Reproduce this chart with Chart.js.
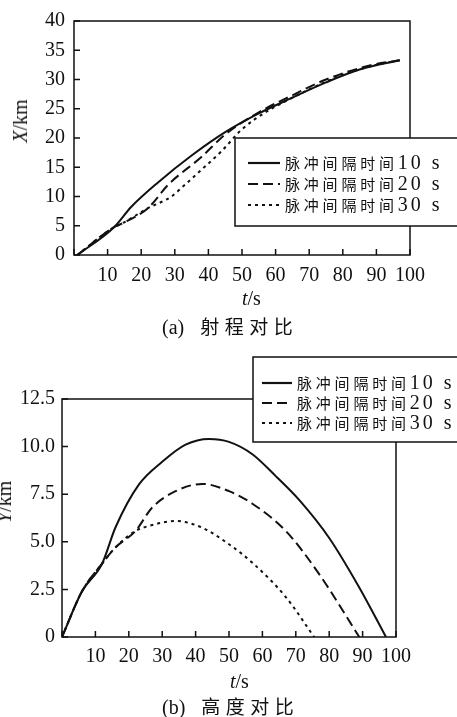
<!DOCTYPE html>
<html lang="zh">
<head>
<meta charset="UTF-8">
<script src="https://cdn.jsdelivr.net/npm/chart.js"></script>
<title>射程与高度对比</title>
<style>
    body, html {
        margin: 0;
        padding: 0;
        background: #fff;
    }
    .page {
        position: relative;
        width: 457px;
        height: 717px;
        overflow: hidden;
        font-family: "Liberation Serif", serif;
        color: #111;
    }
    canvas {
        position: absolute;
        left: 0;
    }
    .lbl {
        position: absolute;
        font-size: 20px;
        white-space: nowrap;
        line-height: 1;
    }
    .rot {
        transform: translate(-50%, -50%) rotate(-90deg);
    }
    .cap .zh {
        font-family: "Noto Sans CJK SC", sans-serif;
        font-size: 19px;
        letter-spacing: 5.5px;
        margin-left: 16px;
    }
</style>
</head>
<body>
<div class="page">
    <canvas id="rangeChart" width="457" height="300" style="top:0"></canvas>
    <canvas id="heightChart" width="457" height="377" style="top:340px"></canvas>

    <div class="lbl rot" style="left:20px; top:121px"><i>X</i>/km</div>
    <div class="lbl" style="left:242px; top:288px"><i>t</i>/s</div>
    <div class="lbl cap" style="left:162px; top:316px">(a)<span class="zh">射程对比</span></div>

    <div class="lbl rot" style="left:4px; top:502px"><i>Y</i>/km</div>
    <div class="lbl" style="left:230px; top:671px"><i>t</i>/s</div>
    <div class="lbl cap" style="left:162px; top:696px">(b)<span class="zh">高度对比</span></div>
</div>

<script>
    // legend labels
    const seriesLabels = ['脉冲间隔时间10 s', '脉冲间隔时间20 s', '脉冲间隔时间30 s']

    // (a) range X (km) vs t (s)
    const tRange10 = [1, 12, 17, 25, 35, 45, 55, 65, 75, 85, 97]
    const xRange10 = [0, 4.8, 8.2, 12.4, 17.0, 21.0, 24.2, 26.9, 29.5, 31.7, 33.3]
    const tRange20 = [1, 12, 14, 22, 28, 38, 45, 55, 65, 75, 88, 97]
    const xRange20 = [0, 4.8, 5.3, 8.0, 12.0, 16.8, 20.6, 24.4, 27.3, 30.0, 32.4, 33.3]
    const tRange30 = [1, 12, 14, 22, 29, 33, 38, 44, 50, 57, 63, 70, 80, 90, 97]
    const xRange30 = [0, 4.8, 5.3, 8.0, 10.0, 12.0, 14.6, 17.8, 21.5, 24.4, 26.3, 28.3, 30.8, 32.5, 33.3]

    // (b) height Y (km) vs t (s)
    const tHeight10 = [0, 6, 12, 16, 23, 30, 37, 44, 50, 57, 64, 71, 80, 89, 97]
    const yHeight10 = [0, 2.4, 3.85, 5.75, 8.0, 9.2, 10.1, 10.4, 10.25, 9.6, 8.45, 7.2, 5.2, 2.6, 0]
    const tHeight20 = [0, 6, 12, 16, 22, 27, 34, 42, 50, 57, 67, 77, 89]
    const yHeight20 = [0, 2.4, 3.85, 4.7, 5.57, 6.8, 7.66, 8.04, 7.66, 7.0, 5.57, 3.3, 0]
    const tHeight30 = [0, 6, 12, 16, 22, 26, 34, 42, 50, 57, 67, 75.5]
    const yHeight30 = [0, 2.4, 3.85, 4.7, 5.57, 5.83, 6.09, 5.74, 4.87, 3.9, 2.1, 0]

    const dashes = [[], [10, 5], [3, 4]]

    function toPoints(ts, vs) {
        return ts.map((t, i) => ({ x: t, y: vs[i] }))
    }

    function makeDatasets(series) {
        return series.map((s, i) => ({
            label: seriesLabels[i],
            data: toPoints(s[0], s[1]),
            borderColor: '#111',
            borderWidth: 2,
            borderDash: dashes[i],
            pointRadius: 0,
            cubicInterpolationMode: 'monotone',
            fill: false
        }))
    }

    // frame, inward ticks and the legend box that spills over the plot edge
    const framePlugin = {
        id: 'frame',
        afterDraw(chart, args, opts) {
            const ctx = chart.ctx
            const a = chart.chartArea
            const xs = chart.scales.x
            const ys = chart.scales.y
            ctx.save()
            ctx.strokeStyle = '#111'
            ctx.lineWidth = 1.5
            ctx.setLineDash([])
            ctx.strokeRect(a.left, a.top, a.right - a.left, a.bottom - a.top)

            ctx.beginPath()
            xs.ticks.forEach(t => {
                const px = xs.getPixelForValue(t.value)
                ctx.moveTo(px, a.bottom)
                ctx.lineTo(px, a.bottom - 6)
            })
            ys.ticks.forEach(t => {
                const py = ys.getPixelForValue(t.value)
                ctx.moveTo(a.left, py)
                ctx.lineTo(a.left + 6, py)
            })
            ctx.stroke()

            const b = opts.box
            ctx.fillStyle = '#fff'
            ctx.fillRect(b.x, b.y, b.w, b.h)
            ctx.strokeRect(b.x, b.y, b.w, b.h)

            ctx.fillStyle = '#111'
            ctx.textBaseline = 'middle'
            chart.data.datasets.forEach((ds, i) => {
                const y = b.rows[i]
                ctx.lineWidth = 2.2
                ctx.setLineDash(ds.borderDash)
                ctx.beginPath()
                ctx.moveTo(b.lineX0, y)
                ctx.lineTo(b.lineX1, y)
                ctx.stroke()
                ctx.setLineDash([])

                const m = ds.label.match(/^([^0-9]+)(.*)$/)
                let x = b.textX
                ctx.font = '15px "Noto Sans CJK SC"'
                for (const ch of m[1]) {
                    ctx.fillText(ch, x, y)
                    x += 18.8
                }
                ctx.font = '20px "Liberation Serif"'
                for (const ch of m[2]) {
                    ctx.fillText(ch, x, y + 1)
                    x += ctx.measureText(ch).width + 3
                }
            })
            ctx.restore()
        }
    }

    function makeChart(id, series, cfg) {
        return new Chart(document.getElementById(id), {
            type: 'line',
            data: { datasets: makeDatasets(series) },
            plugins: [framePlugin],
            options: {
                responsive: false,
                animation: false,
                layout: { padding: cfg.padding },
                plugins: {
                    legend: { display: false },
                    tooltip: { enabled: false },
                    frame: { box: cfg.box }
                },
                scales: {
                    x: {
                        type: 'linear',
                        min: 0,
                        max: 100,
                        grid: { display: false, drawTicks: false },
                        border: { display: false },
                        ticks: {
                            stepSize: 10,
                            padding: cfg.xPad,
                            color: '#111',
                            font: { family: 'Liberation Serif', size: 20 },
                            maxRotation: 0,
                            autoSkip: false,
                            callback: v => v === 0 ? '' : v
                        },
                        afterFit: s => { s.height = cfg.xHeight }
                    },
                    y: {
                        min: 0,
                        max: cfg.yMax,
                        grid: { display: false, drawTicks: false },
                        border: { display: false },
                        ticks: {
                            stepSize: cfg.yStep,
                            padding: cfg.yPad,
                            color: '#111',
                            font: { family: 'Liberation Serif', size: 20 },
                            callback: cfg.yFormat
                        },
                        afterFit: s => { s.width = cfg.yWidth }
                    }
                }
            }
        })
    }

    makeChart('rangeChart',
        [[tRange10, xRange10], [tRange20, xRange20], [tRange30, xRange30]],
        {
            padding: { left: 0, top: 18, right: 47, bottom: 0 },
            xHeight: 45, yWidth: 74, xPad: 9, yPad: 9,
            yMax: 40, yStep: 5,
            yFormat: v => v,
            box: { x: 235, y: 138, w: 240, h: 88, rows: [163, 184, 205], lineX0: 248, lineX1: 280, textX: 285 }
        })

    makeChart('heightChart',
        [[tHeight10, yHeight10], [tHeight20, yHeight20], [tHeight30, yHeight30]],
        {
            padding: { left: 0, top: 59, right: 61, bottom: 0 },
            xHeight: 80, yWidth: 62, xPad: 8, yPad: 7,
            yMax: 12.5, yStep: 2.5,
            yFormat: v => v === 0 ? '0' : v.toFixed(1),
            box: { x: 253, y: 17, w: 240, h: 85, rows: [43, 63, 83], lineX0: 262, lineX1: 292, textX: 297 }
        })
</script>
</body>
</html>
